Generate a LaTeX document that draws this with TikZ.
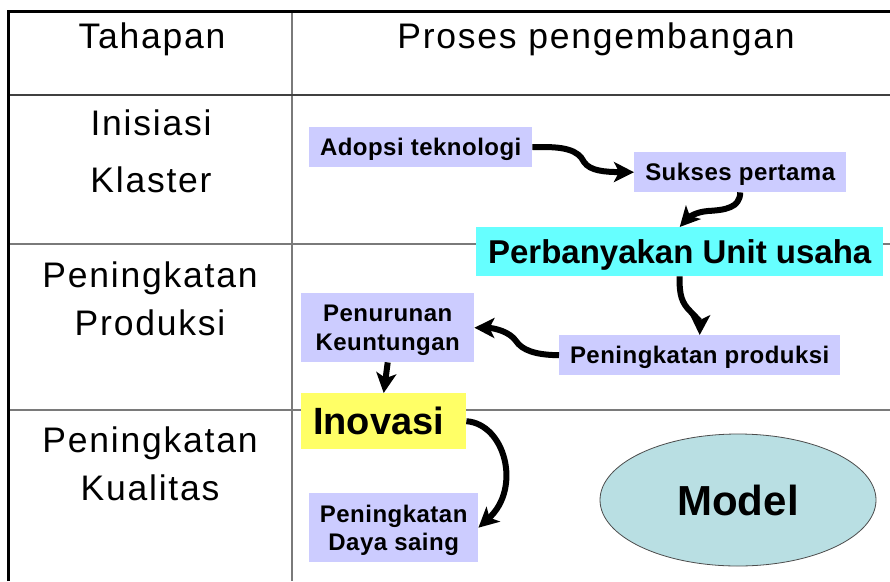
\documentclass[tikz,border=0pt]{standalone}
\usepackage{fontspec}
\setmainfont{Liberation Sans}
\newfontfamily\cellfont{Liberation Sans}[LetterSpace=5]
\newfontfamily\stepfont{Liberation Sans}[LetterSpace=2]
\usetikzlibrary{arrows.meta,shapes.geometric}

\definecolor{lav}{HTML}{CCCCFF}
\definecolor{aqua}{HTML}{66FFFF}
\definecolor{lemon}{HTML}{FFFF66}
\definecolor{modelfill}{HTML}{B9DFE3}
\definecolor{rulegray}{HTML}{7A7A7A}

\tikzset{
  gridline/.style={draw=rulegray, line width=1.6pt},
  stage/.style={font=\fontsize{35.5}{48}\selectfont\cellfont, align=center,
    inner sep=0pt, text height=25.4pt, text depth=0pt},
  stepbox/.style={fill=lav, anchor=north west, inner sep=0pt, align=center,
    font=\fontsize{24}{29}\selectfont\stepfont\bfseries,
    text height=17.2pt, text depth=0pt},
  flow/.style={line width=6pt, line cap=butt,
    -{Stealth[length=20pt,width=20pt,inset=5pt]}},
}

\begin{document}
\begin{tikzpicture}[x=1pt, y=-1pt]
  \fill[white] (0,0) rectangle (890,581);
  \useasboundingbox (0,0) rectangle (890,581);

  % table frame
  \draw[gridline] (292,11.3) -- (292,581);
  \draw[gridline, draw=black!75] (8.5,95) -- (890,95);
  \draw[gridline] (8.5,244) -- (890,244);
  \draw[gridline] (8.5,410) -- (890,410);
  \draw[line width=3pt, line join=miter] (8.5,581) -- (8.5,11.3) -- (890,11.3);

  % column headers and stage names (text height = cap height + line skips)
  \node[stage] (hstage) at (152,35.5) {Tahapan};
  \node[stage] (hproc) at (596,35.5) {Proses pengembangan};
  \node[stage, font=\fontsize{35.5}{57}\selectfont\cellfont, text height=82.4pt] (s1) at (151,151) {Inisiasi\\Klaster};
  \node[stage, text height=73.4pt] (s2) at (150,298.5) {Peningkatan\\Produksi};
  \node[stage, text height=73.4pt] (s3) at (150,463.5) {Peningkatan\\Kualitas};

  % process steps
  \node[stepbox, minimum width=223pt, minimum height=40pt] (adopsi) at (309,127) {Adopsi teknologi};
  \node[stepbox, minimum width=212pt, minimum height=40pt] (sukses) at (634,152) {Sukses pertama};
  \node[stepbox, fill=aqua, minimum width=407pt, minimum height=49pt,
    font=\fontsize{33}{40}\selectfont\bfseries, text height=23.6pt] (perb) at (476,227) {Perbanyakan Unit usaha};
  \node[stepbox, minimum width=173pt, minimum height=69pt, text height=46.2pt] (pen) at (301,293) {Penurunan\\Keuntungan};
  \node[stepbox, minimum width=281pt, minimum height=40pt] (prod) at (559,335) {Peningkatan produksi};
  \node[stepbox, fill=lemon, minimum width=165pt, minimum height=56pt,
    font=\fontsize{38}{44}\selectfont\bfseries, text height=27.2pt,
    align=left, text width=141pt, inner xsep=12pt] (inov) at (301,393) {Inovasi};
  \node[stepbox, minimum width=169pt, minimum height=69pt, text height=45.2pt,
    font=\fontsize{24}{28}\selectfont\stepfont\bfseries] (daya) at (309,493) {Peningkatan\\Daya saing};

  \node[ellipse, draw=black!70, line width=0.8pt, fill=modelfill, inner sep=0pt,
    minimum width=276pt, minimum height=132pt,
    font=\fontsize{42}{48}\selectfont\bfseries, text height=30.1pt, text depth=0pt]
    (model) at (738,500) {Model};

  % flow arrows
  \draw[flow] (adopsi.east) .. controls (565,146) and (578,150) .. (584,162)
    .. controls (590,171) and (605,172) .. (sukses.west);
  \draw[flow] (sukses.south) .. controls (740,208) and (725,210) .. (708,211)
    .. controls (695,212) and (688,218) .. (perb.north);
  \draw[flow] (perb.south) .. controls (679,295) and (682,303) .. (690,311)
    .. controls (697,318) and (700,322) .. (prod.north);
  \draw[flow] (prod.west) .. controls (535,355) and (522,350) .. (516,341)
    .. controls (510,332) and (495,328) .. (pen.east);
  \draw[flow] (pen.south) -- (inov.north);
  \draw[flow] (inov.east) .. controls (505,424) and (522,488) .. (daya.east);
\end{tikzpicture}
\end{document}
